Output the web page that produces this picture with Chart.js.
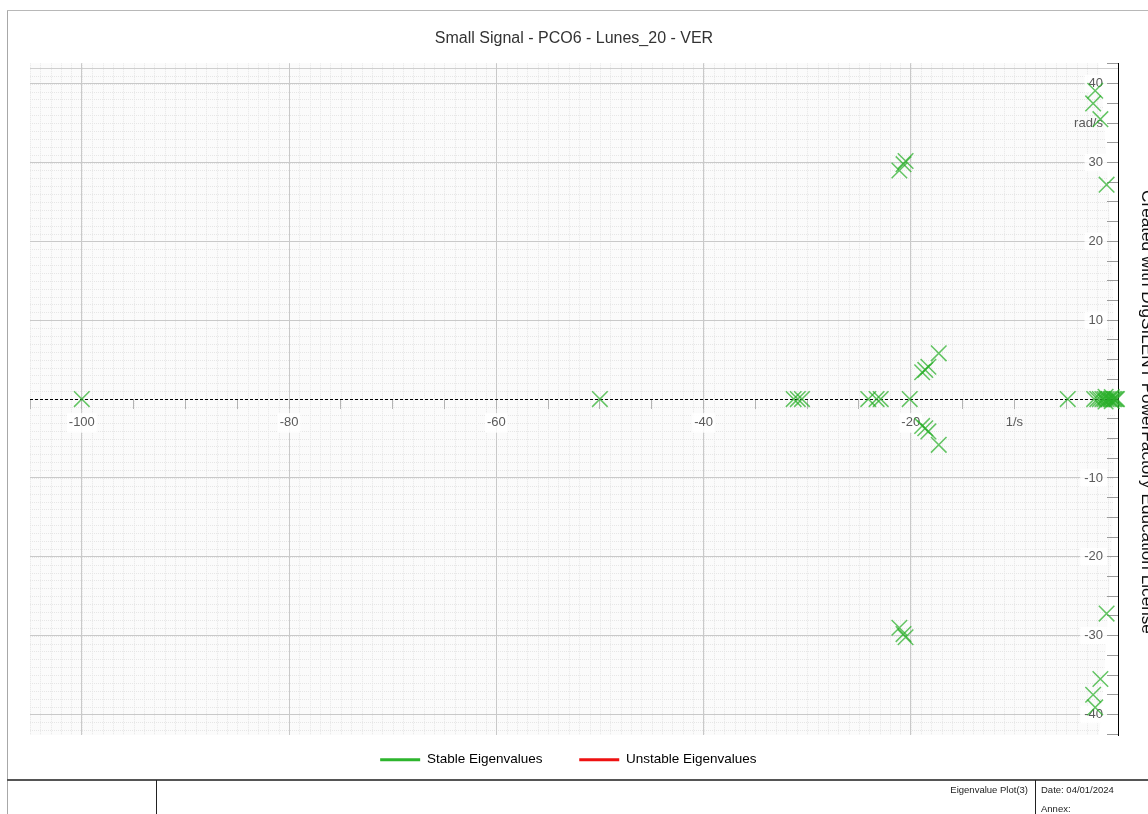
<!DOCTYPE html>
<html>
<head>
<meta charset="utf-8">
<title>Small Signal - PCO6 - Lunes_20 - VER</title>
<script src="https://cdn.jsdelivr.net/npm/chart.js@4/dist/chart.umd.min.js"></script>
<style>
  html, body { margin: 0; padding: 0; background: #fff; }
  body { width: 1148px; height: 814px; position: relative; overflow: hidden;
         font-family: "Liberation Sans", Arial, sans-serif; }
  #chartBox { position: absolute; left: 0; top: 0; width: 1148px; height: 814px; }
  .rule { position: absolute; }
  .frame-left { left: 7px; top: 10px; width: 1px; height: 804px; background: #a8a8a8; }
  .frame-top { left: 7px; top: 10px; width: 1141px; height: 1px; background: #b8b8b8; }
  .tbl-top { left: 7px; top: 779px; width: 1141px; height: 2px; background: #555; }
  .tbl-v1 { left: 156px; top: 780px; width: 1px; height: 34px; background: #222; }
  .tbl-v2 { left: 1035px; top: 780px; width: 1px; height: 34px; background: #222; }
  .cell { position: absolute; font-size: 9.5px; line-height: 11px; color: #222; white-space: nowrap; }
  .license { position: absolute; left: 1158px; top: 190px; height: 20px; line-height: 20px;
             font-size: 17.2px; color: #111; white-space: nowrap;
             transform-origin: 0 0; transform: rotate(90deg); }
</style>
</head>
<body>
<div id="chartBox"><canvas id="eig"></canvas></div>
<div class="rule frame-left"></div>
<div class="rule frame-top"></div>
<div class="rule tbl-top"></div>
<div class="rule tbl-v1"></div>
<div class="rule tbl-v2"></div>
<div class="cell" style="right:120px; top:784px;">Eigenvalue Plot(3)</div>
<div class="cell" style="left:1041px; top:784px;">Date: 04/01/2024</div>
<div class="cell" style="left:1041px; top:803px;">Annex:</div>
<div class="license">Created with DIgSILENT PowerFactory Education License</div>

<script>
// Eigenvalues λ = σ + jω of the small-signal model (σ in 1/s, ω in rad/s)
const stableRe = [
  -100, -50, -31.3, -30.9, -30.5, -24.1, -23.3, -22.9, -20.1, -4.85,
  -2.3, -2.0, -1.75, -1.5, -1.3, -1.1, -0.9, -0.7, -0.5, -0.35, -0.2, -0.1,
  -1.2, -1.2, -0.6, -0.6,
  -21.1, -21.1, -20.7, -20.7, -20.5, -20.5,
  -18.9, -18.9, -18.6, -18.6, -18.3, -18.3, -17.3, -17.3,
  -1.1, -1.1, -1.7, -1.7, -2.4, -2.4, -2.2, -2.2
];
const stableIm = [
  0, 0, 0, 0, 0, 0, 0, 0, 0, 0,
  0, 0, 0, 0, 0, 0, 0, 0, 0, 0, 0, 0,
  0.3, -0.3, 0.25, -0.25,
  29.0, -29.0, 29.8, -29.8, 30.2, -30.2,
  3.4, -3.4, 3.7, -3.7, 4.1, -4.1, 5.8, -5.8,
  27.2, -27.2, 35.5, -35.5, 37.5, -37.5, 39.1, -39.1
];
const unstableRe = [];
const unstableIm = [];

// Right-hand limit of the plotted region (σ as a function of ω)
const boundaryIm = [42.6, 40, 35, 30, 25, 20, 15, 10, 5, 0, -5, -10, -15, -20, -25, -30, -35, -40, -42.6];
const boundaryRe = [-1.85, -1.6, -1.35, -1.1, -0.85, -0.65, -0.52, -0.42, -0.34, -0.3, -0.34, -0.42, -0.52, -0.65, -0.85, -1.1, -1.35, -1.6, -1.85];

// Axis ranges and tick labelling
const reRange = [-105, 0];
const imRange = [-42.6, 42.6];
const reStep = 5, reLabelStep = 20, reUnitAt = -10, reUnit = '1/s';
const imStep = 2.5, imLabelStep = 10, imUnitAt = 35, imUnit = 'rad/s';
const imLabelColumn = -1.45;   // σ at which the ω labels are right-aligned
const fineStep = 1;

const seriesNames = ['Stable Eigenvalues', 'Unstable Eigenvalues'];
const seriesColors = ['#2db52d', '#ee1111'];

const toPoints = (re, im) => re.map((v, i) => ({ x: v, y: im[i] }));
const near = (a, b) => Math.abs(a - b) < 1e-6;
const isMult = (v, s) => near(v / s, Math.round(v / s));
const isImMajor = (v) => !near(v, 0) && isMult(v, imLabelStep);
const isReMajor = (v) => v < 0 && isMult(v, reLabelStep);

const reLabel = (v) => near(v, reUnitAt) ? reUnit : (isReMajor(v) ? String(v) : '');
const imLabel = (v) => near(v, imUnitAt) ? imUnit : (isImMajor(v) ? String(v) : '');

Chart.defaults.font.family = '"Liberation Sans", Arial, sans-serif';

// Plot frame with a fine background grid, bounded on the right by the boundary curve
const plotBackground = {
  id: 'plotBackground',
  beforeDraw(chart) {
    const { ctx, chartArea: a, scales: { x, y } } = chart;
    const n = boundaryIm.length;
    ctx.save();
    ctx.beginPath();
    ctx.moveTo(a.left, a.top);
    for (let i = 0; i < n; i++) {
      ctx.lineTo(x.getPixelForValue(boundaryRe[i]), y.getPixelForValue(boundaryIm[i]));
    }
    ctx.lineTo(a.left, a.bottom);
    ctx.closePath();
    ctx.save();
    ctx.clip();
    ctx.fillStyle = '#fbfbfb';
    ctx.fillRect(a.left, a.top, a.right - a.left, a.bottom - a.top);
    ctx.strokeStyle = '#e6e6e6';
    ctx.lineWidth = 1;
    ctx.setLineDash([1, 1]);
    for (let v = reRange[0]; v <= reRange[1]; v += fineStep) {
      const px = Math.round(x.getPixelForValue(v)) + 0.5;
      ctx.beginPath(); ctx.moveTo(px, a.top); ctx.lineTo(px, a.bottom); ctx.stroke();
    }
    for (let v = Math.ceil(imRange[0]); v <= imRange[1]; v += fineStep) {
      const py = Math.round(y.getPixelForValue(v)) + 0.5;
      ctx.beginPath(); ctx.moveTo(a.left, py); ctx.lineTo(a.right, py); ctx.stroke();
    }
    ctx.restore();
    ctx.setLineDash([]);
    ctx.strokeStyle = '#cfcfcf';
    ctx.lineWidth = 1;
    ctx.stroke();
    ctx.restore();
  },
  // dashed real axis (ω = 0)
  beforeDatasetsDraw(chart) {
    const { ctx, chartArea: a, scales: { y } } = chart;
    const py = Math.round(y.getPixelForValue(0)) + 0.5;
    ctx.save();
    ctx.strokeStyle = '#000';
    ctx.lineWidth = 1;
    ctx.setLineDash([3, 2]);
    ctx.beginPath(); ctx.moveTo(a.left, py); ctx.lineTo(a.right, py); ctx.stroke();
    ctx.restore();
  }
};

new Chart(document.getElementById('eig'), {
  type: 'scatter',
  data: {
    datasets: [
      {
        label: seriesNames[0],
        data: toPoints(stableRe, stableIm),
        pointStyle: 'crossRot',
        pointRadius: 11,
        borderWidth: 1.5,
        borderColor: 'rgba(40,175,40,0.72)',
        backgroundColor: 'rgba(40,175,40,0.72)',
        clip: false
      },
      {
        label: seriesNames[1],
        data: toPoints(unstableRe, unstableIm),
        pointStyle: 'crossRot',
        pointRadius: 11,
        borderWidth: 1.5,
        borderColor: seriesColors[1],
        backgroundColor: seriesColors[1],
        clip: false
      }
    ]
  },
  options: {
    responsive: true,
    maintainAspectRatio: false,
    animation: false,
    events: [],
    layout: { padding: { left: 30, right: 30, top: 0, bottom: 37.5 } },
    scales: {
      x: {
        type: 'linear',
        min: reRange[0],
        max: reRange[1],
        position: { y: 0 },
        ticks: {
          stepSize: reStep,
          includeBounds: false,
          autoSkip: false,
          maxRotation: 0,
          padding: 6,
          color: '#5a5a5a',
          font: { size: 13 },
          callback: reLabel,
          showLabelBackdrop: (c) => !!c.tick && isReMajor(c.tick.value),
          backdropColor: 'rgba(255,255,255,0.85)',
          backdropPadding: 2
        },
        grid: {
          color: (c) => (c.tick && isMult(c.tick.value, reLabelStep)) ? '#c9c9c9' : 'rgba(0,0,0,0)',
          tickColor: '#b4b4b4',
          tickLength: 10,
          lineWidth: 1
        },
        border: { display: false }
      },
      y: {
        type: 'linear',
        min: imRange[0],
        max: imRange[1],
        position: { x: 0 },
        ticks: {
          stepSize: imStep,
          includeBounds: false,
          autoSkip: false,
          display: false
        },
        grid: {
          color: (c) => (c.tick && isImMajor(c.tick.value)) ? '#c9c9c9' : 'rgba(0,0,0,0)',
          tickColor: '#9a9a9a',
          tickLength: 11,
          lineWidth: 1
        },
        border: { display: true, color: '#000', width: 1 }
      },
      yLabels: {
        type: 'linear',
        axis: 'y',
        min: imRange[0],
        max: imRange[1],
        position: { x: imLabelColumn },
        ticks: {
          stepSize: imStep,
          includeBounds: false,
          autoSkip: false,
          padding: 0,
          color: '#5a5a5a',
          font: { size: 13 },
          callback: imLabel,
          showLabelBackdrop: (c) => !!c.tick && isImMajor(c.tick.value),
          backdropColor: 'rgba(255,255,255,0.85)',
          backdropPadding: { left: 4, right: 4, top: 1, bottom: 1 }
        },
        grid: { display: false, drawTicks: false },
        border: { display: false }
      }
    },
    plugins: {
      title: {
        display: true,
        text: 'Small Signal - PCO6 - Lunes_20 - VER',
        color: '#333',
        font: { size: 16, weight: 'normal' },
        padding: { top: 29, bottom: 15 }
      },
      legend: {
        display: true,
        position: 'bottom',
        labels: {
          usePointStyle: true,
          pointStyleWidth: 40,
          color: '#333',
          font: { size: 13.5 },
          padding: 18,
          generateLabels: () => seriesNames.map((name, i) => ({
            text: name + (i === 0 ? '     ' : '   '),
            pointStyle: 'line',
            strokeStyle: seriesColors[i],
            fillStyle: seriesColors[i],
            lineWidth: 3,
            hidden: false,
            datasetIndex: i
          }))
        }
      },
      tooltip: { enabled: false }
    }
  },
  plugins: [plotBackground]
});
</script>
</body>
</html>
